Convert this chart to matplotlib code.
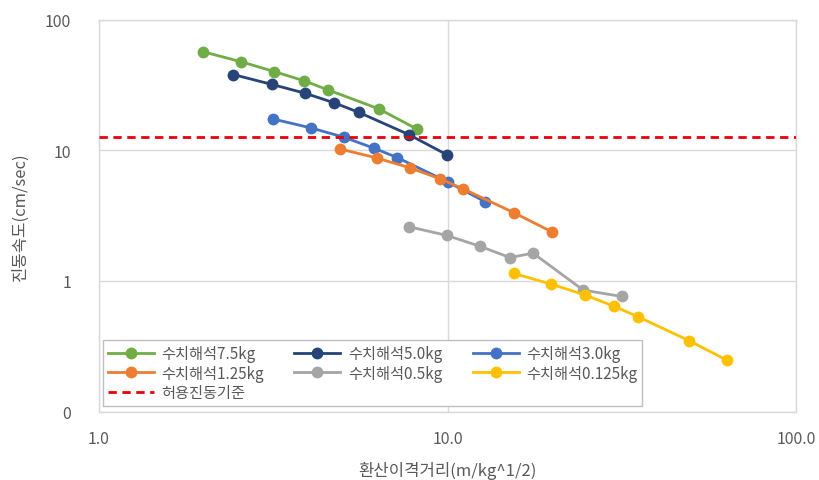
import matplotlib
matplotlib.use("Agg")
import matplotlib.pyplot as plt
from matplotlib.ticker import FixedLocator, FixedFormatter, NullLocator

plt.rcParams['font.family'] = ['Noto Sans CJK KR', 'DejaVu Sans']

# Data (scaled distance, vibration velocity)
x_75 = [1.99, 2.56, 3.18, 3.88, 4.54, 6.34, 8.15]
y_75 = [56.8, 47.6, 40.1, 34.0, 29.0, 20.8, 14.6]

x_50 = [2.43, 3.14, 3.91, 4.73, 5.57, 7.74, 9.98]
y_50 = [38.0, 31.9, 27.3, 23.1, 19.5, 13.2, 9.22]

x_30 = [3.15, 4.07, 5.04, 6.14, 7.18, 10.0, 12.8]
y_30 = [17.4, 14.8, 12.6, 10.4, 8.79, 5.73, 4.05]

x_125 = [4.90, 6.26, 7.81, 9.49, 11.1, 15.5, 19.9]
y_125 = [10.25, 8.74, 7.33, 6.07, 5.06, 3.33, 2.38]

x_05 = [7.74, 9.95, 12.4, 15.1, 17.6, 24.5, 31.6]
y_05 = [2.60, 2.23, 1.84, 1.51, 1.63, 0.851, 0.760]

x_0125 = [15.5, 19.8, 24.8, 30.1, 35.2, 49.4, 63.2]
y_0125 = [1.14, 0.947, 0.780, 0.638, 0.532, 0.348, 0.248]

limit_value = 12.7

series_labels = ['수치해석7.5kg', '수치해석5.0kg', '수치해석3.0kg',
                 '수치해석1.25kg', '수치해석0.5kg', '수치해석0.125kg']
limit_label = '허용진동기준'
x_ticks = [1, 10, 100]
x_tick_labels = ['1.0', '10.0', '100.0']
y_ticks = [0.1, 1, 10, 100]
y_tick_labels = ['0', '1', '10', '100']

colors = ['#70AD47', '#264478', '#4472C4', '#ED7D31', '#A5A5A5', '#FFC000']

fig = plt.figure(figsize=(8.19, 4.81), dpi=100)
ax = fig.add_axes([0.1209, 0.1424, 0.851, 0.8146])

xs = [x_75, x_50, x_30, x_125, x_05, x_0125]
ys = [y_75, y_50, y_30, y_125, y_05, y_0125]
handles = []
for x, y, c, lab in zip(xs, ys, colors, series_labels):
    h, = ax.plot(x, y, color=c, lw=2.0, marker='o', markersize=8.5,
                 markeredgewidth=0, label=lab, zorder=3)
    handles.append(h)

hl = ax.axhline(limit_value, color='#E8000B', lw=2.0, ls=(0, (3, 2)),
                label=limit_label, zorder=4)

ax.set_xscale('log')
ax.set_yscale('log')
ax.set_xlim(1, 100)
ax.set_ylim(0.1, 100)

ax.xaxis.set_major_locator(FixedLocator(x_ticks))
ax.xaxis.set_major_formatter(FixedFormatter(x_tick_labels))
ax.xaxis.set_minor_locator(NullLocator())
ax.yaxis.set_major_locator(FixedLocator(y_ticks))
ax.yaxis.set_major_formatter(FixedFormatter(y_tick_labels))
ax.yaxis.set_minor_locator(NullLocator())

ax.grid(True, which='major', color='#D9D9D9', lw=1.0, zorder=0)
for s in ax.spines.values():
    s.set_color('#D9D9D9')
    s.set_linewidth(1.0)
ax.tick_params(axis='both', length=0, labelsize=11.5, colors='#595959')
ax.tick_params(axis='y', pad=20)
ax.tick_params(axis='x', pad=13)

ax.set_xlabel('환산이격거리(m/kg^1/2)', fontsize=12, color='#595959', labelpad=10)
ax.set_ylabel('진동속도(cm/sec)', fontsize=12, color='#595959', labelpad=12)

order = [handles[0], handles[3], hl, handles[1], handles[4], handles[2], handles[5]]
leg = ax.legend(order, [h.get_label() for h in order], ncol=3,
                loc='lower left', bbox_to_anchor=(0.006, 0.014),
                borderaxespad=0,
                fontsize=11, frameon=True, fancybox=False,
                edgecolor='#BFBFBF', handlelength=3.0, handletextpad=0.5,
                columnspacing=2.0, labelspacing=0.18, borderpad=0.3,
                framealpha=1)
leg.get_frame().set_linewidth(1.0)
for t in leg.get_texts():
    t.set_color('#595959')

fig.savefig('out.png', dpi=100)
